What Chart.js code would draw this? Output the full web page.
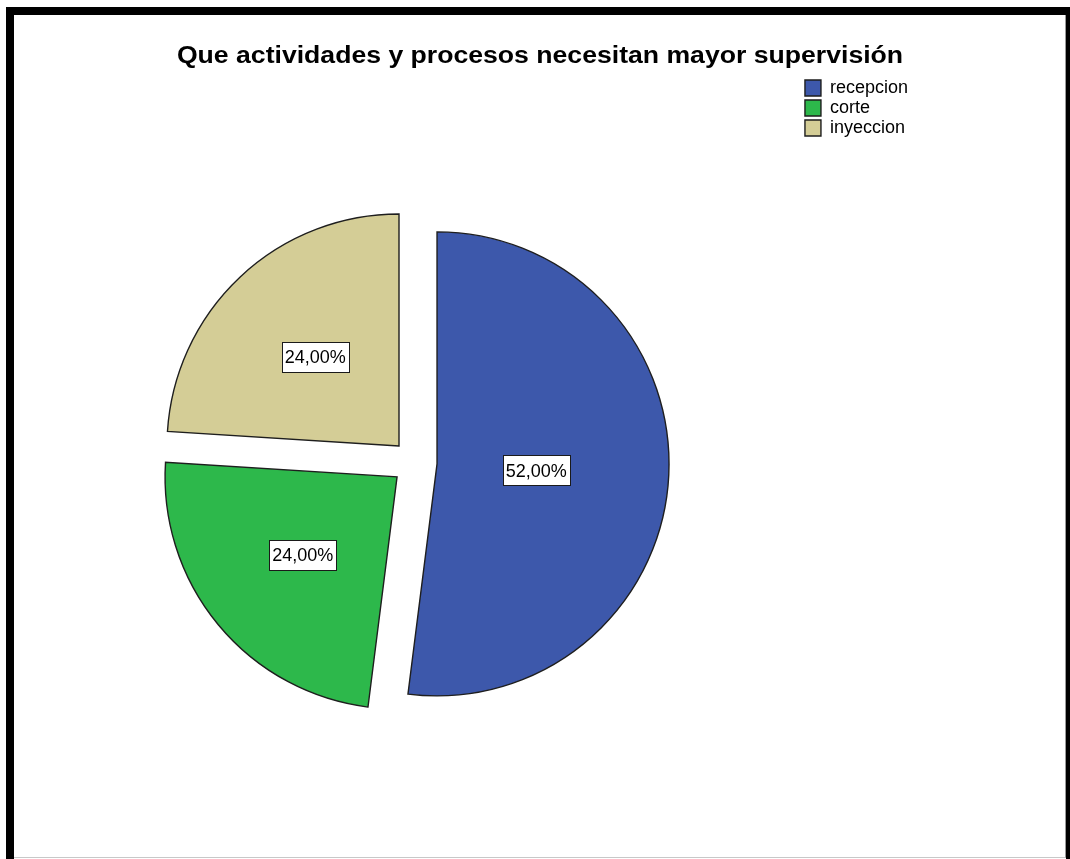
<!DOCTYPE html>
<html>
<head>
<meta charset="utf-8">
<title>Que actividades y procesos necesitan mayor supervisión</title>
<script src="https://cdn.jsdelivr.net/npm/chart.js@4/dist/chart.umd.min.js"></script>
<style>
  html, body { margin: 0; padding: 0; background: #fff; overflow: hidden; }
  body { width: 1070px; height: 859px; position: relative; }
  #frame {
    position: absolute; left: 6px; top: 7px; width: 1064px; height: 852px;
    box-sizing: border-box;
    border-left: 8px solid #000; border-top: 8px solid #000; border-right: 4px solid #000;
  }
  #frame::after {
    content: ''; position: absolute; left: 0; right: 0; top: 0; bottom: 1px;
    border-right: 1px solid #9a9a9a; border-bottom: 1px solid #c8c8c8;
  }
  #chart { position: absolute; left: 0; top: 0; }
  #title {
    position: absolute; left: 5px; top: 44px; width: 1070px;
    text-align: center; white-space: nowrap;
    font: bold 23px/23px "Liberation Sans", Arial, sans-serif; color: #000;
    transform: scaleX(1.157); transform-origin: 50% 50%;
  }
</style>
</head>
<body>
<div id="frame"></div>
<canvas id="chart" width="1070" height="859"></canvas>
<div id="title">Que actividades y procesos necesitan mayor supervisión</div>
<script>
// Categories and their shares (%)
const categories = ['recepcion', 'corte', 'inyeccion'];
const percentages = [52, 24, 24];
const sliceColors = ['#3D58AB', '#2DB84B', '#D4CD96'];

const LABEL_FONT = "'Liberation Sans', Arial, sans-serif";

function formatPct(v) {
  return v.toFixed(2).replace('.', ',') + '%';
}

// Pie slice that is pulled straight out along its bisector, keeping its radius
class ExplodedArc extends Chart.ArcElement {
  static id = 'explodedArc';
  draw(ctx) {
    const { x, y, startAngle, endAngle, outerRadius, options } = this;
    if (!(endAngle - startAngle > 0)) return;
    const mid = (startAngle + endAngle) / 2;
    const shift = options.offset || 0;
    ctx.save();
    ctx.translate(Math.cos(mid) * shift, Math.sin(mid) * shift);
    ctx.beginPath();
    ctx.moveTo(x, y);
    ctx.arc(x, y, outerRadius, startAngle, endAngle);
    ctx.closePath();
    ctx.fillStyle = options.backgroundColor;
    ctx.fill();
    if (options.borderWidth) {
      ctx.lineWidth = options.borderWidth;
      ctx.strokeStyle = options.borderColor;
      ctx.lineJoin = 'miter';
      ctx.stroke();
    }
    ctx.restore();
  }
}
Chart.register(ExplodedArc);
Chart.defaults.datasets.pie.dataElementType = 'explodedArc';

// Boxed percentage labels inside each slice
const sliceLabels = {
  id: 'sliceLabels',
  afterDatasetsDraw(chart) {
    const meta = chart.getDatasetMeta(0);
    const values = chart.data.datasets[0].data;
    const ctx = chart.ctx;
    ctx.save();
    ctx.font = '18px ' + LABEL_FONT;
    ctx.textAlign = 'center';
    ctx.textBaseline = 'middle';
    meta.data.forEach((arc, i) => {
      const { x, y, startAngle, endAngle, outerRadius, options } = arc;
      const theta = endAngle - startAngle;
      const mid = (startAngle + endAngle) / 2;
      const centroid = 4 * Math.sin(theta / 2) / (3 * theta);
      const dist = (options.offset || 0) + outerRadius * (0.5 * centroid + 0.225);
      const cx = x + Math.cos(mid) * dist;
      const cy = y + Math.sin(mid) * dist;
      const text = formatPct(values[i]);
      const w = Math.round(ctx.measureText(text).width + 6);
      const h = 30;
      const left = Math.round(cx - w / 2) + 0.5;
      const top = Math.round(cy - h / 2) + 0.5;
      ctx.fillStyle = '#fff';
      ctx.fillRect(left, top, w, h);
      ctx.strokeStyle = '#1a1a1a';
      ctx.lineWidth = 1;
      ctx.strokeRect(left, top, w, h);
      ctx.fillStyle = '#000';
      ctx.fillText(text, cx, cy + 1.5);
    });
    ctx.restore();
  }
};

new Chart(document.getElementById('chart'), {
  type: 'pie',
  data: {
    labels: categories,
    datasets: [{
      data: percentages,
      backgroundColor: sliceColors,
      borderColor: '#1e1e1e',
      borderWidth: 1.4,
      offset: 22.6,
      hoverOffset: 22.6,
      radius: 232
    }]
  },
  options: {
    responsive: false,
    animation: false,
    layout: { padding: { top: 77, left: 26, right: 152, bottom: 11 } },
    plugins: {
      title: { display: false },
      tooltip: { enabled: false },
      legend: {
        position: 'right',
        align: 'start',
        labels: {
          boxWidth: 16,
          boxHeight: 16,
          padding: 2,
          color: '#000',
          font: { family: LABEL_FONT, size: 18 }
        }
      }
    }
  },
  plugins: [sliceLabels]
});
</script>
</body>
</html>
